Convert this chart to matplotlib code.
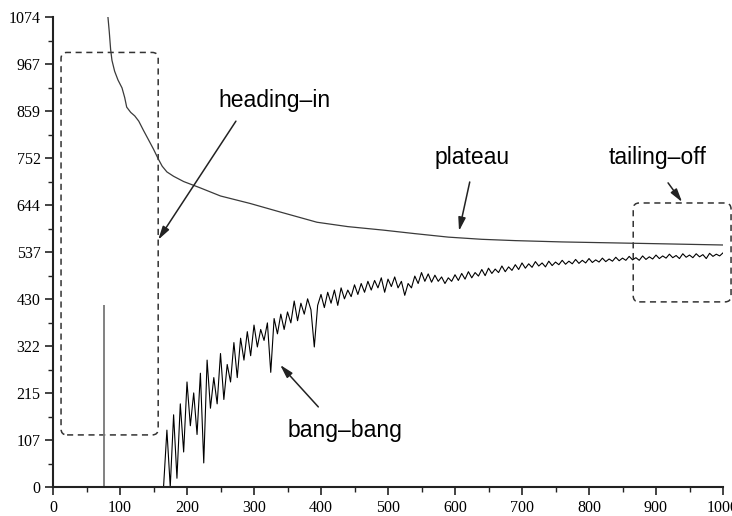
import numpy as np
import matplotlib
matplotlib.use("Agg")
import matplotlib.pyplot as plt
import matplotlib.patches as mpatches

# ---- data ----
y_ticks = [0, 107, 215, 322, 430, 537, 644, 752, 859, 967, 1074]
y_tick_labels = ["0", "107", "215", "322", "430", "537", "644", "752", "859", "967", "1074"]
x_ticks = [0, 100, 200, 300, 400, 500, 600, 700, 800, 900, 1000]

# upper curve (objective, "plateau")
upper_x = [82, 84, 86, 88, 92, 97, 103, 107, 110, 116, 122, 128, 135, 142, 150,
           157, 163, 170, 180, 195, 219, 250, 294, 340, 394, 440, 493, 540, 590, 640,
           690, 760, 830, 900, 1000]
upper_y = [1074, 1040, 1000, 975, 950, 930, 912, 890, 868, 856, 848, 836, 815, 795, 772,
           750, 733, 720, 710, 698, 684, 665, 648, 628, 605, 595, 587, 579, 571, 566,
           563, 560, 558, 556, 553]

# lower curve (bound, "bang-bang"), sampled every 5 iterations from 165
lower_start = 165
lower_step = 5
lower_y = [
    0, 130, 0, 165, 20, 190, 80, 240, 140, 215,
    120, 260, 55, 290, 180, 250, 190, 305, 200, 280,
    240, 330, 250, 340, 290, 355, 300, 370, 320, 360,
    335, 375, 262, 385, 350, 395, 360, 400, 375, 425,
    380, 420, 395, 430, 405, 320, 415, 440, 410, 445,
    420, 450, 415, 455, 430, 450, 435, 462, 440, 465,
    445, 470, 450, 472, 455, 478, 445, 475, 458, 480,
    455, 470, 438, 465, 455, 482, 465, 490, 470, 487,
    468, 484, 470, 480, 465, 478, 470, 485, 472, 488,
    475, 492, 478, 490, 482, 497, 483, 500, 488, 498,
    490, 505, 492, 503, 495, 508, 497, 512, 500, 510,
    502, 515, 505, 512, 503, 516, 506, 514, 508, 518,
    509, 516, 510, 520, 511, 518, 512, 522, 513, 519,
    514, 523, 515, 521, 516, 525, 517, 523, 518, 527,
    519, 524, 518, 528, 520, 526, 521, 530, 522, 528,
    523, 532, 524, 529, 522, 533, 525, 530, 524, 533,
    526, 531, 522, 534, 527, 532, 528, 535,
]
lower_x = [lower_start + lower_step * i for i in range(len(lower_y))]

# isolated spike
spike_x = 76
spike_top = 415

fig = plt.figure(figsize=(7.32, 5.16), dpi=100)
ax = fig.add_axes([53 / 732, 1 - 487 / 516, 670 / 732, 470 / 516])

ax.plot(upper_x, upper_y, color="#3a3a3a", lw=0.9)
ax.plot(lower_x, lower_y, color="black", lw=0.8)
ax.vlines(spike_x, 0, spike_top, color="#777777", lw=1.3)

ax.set_xlim(0, 1000)
ax.set_ylim(0, 1074)

for s in ["top", "right"]:
    ax.spines[s].set_visible(False)
for s in ["left", "bottom"]:
    ax.spines[s].set_linewidth(1.5)
    ax.spines[s].set_color("#222222")

ax.set_yticks(y_ticks)
ax.set_yticklabels(y_tick_labels)
ax.set_yticks([1074 * k / 20 for k in range(1, 20, 2)], minor=True)
ax.set_xticks(x_ticks)
ax.set_xticks(range(50, 1000, 100), minor=True)
ax.tick_params(which="major", direction="out", length=6, width=1.2, color="#222222",
               labelsize=11.5, labelfontfamily="Liberation Serif", pad=3)
ax.tick_params(which="minor", direction="out", length=3.5, width=1, color="#222222")

# dashed rounded boxes
box_kw = dict(fill=False, edgecolor="#333333", lw=1.1, linestyle=(0, (4, 3)),
              mutation_aspect=1.53)
ax.add_patch(mpatches.FancyBboxPatch((12, 119), 145, 874,
                                     boxstyle="round,pad=0,rounding_size=9", **box_kw))
ax.add_patch(mpatches.FancyBboxPatch((866, 423), 146, 226, clip_on=False,
                                     boxstyle="round,pad=0,rounding_size=9", **box_kw))

# annotations
txt_kw = dict(fontsize=16.5, family="Liberation Sans", ha="center", va="center")
arr = dict(arrowstyle="-|>,head_length=0.8,head_width=0.22", color="#222222", lw=1.1,
           shrinkA=0, shrinkB=0)
ax.text(331, 884, "heading\u2013in", **txt_kw)
ax.annotate("", xy=(157, 565), xytext=(273, 836), arrowprops=arr)
ax.text(625, 752, "plateau", **txt_kw)
ax.annotate("", xy=(606, 585), xytext=(622, 697), arrowprops=arr)
ax.text(903, 752, "tailing\u2013off", **txt_kw)
ax.annotate("", xy=(939, 651), xytext=(918, 695), arrowprops=arr)
ax.text(436, 130, "bang\u2013bang", **txt_kw)
ax.annotate("", xy=(339, 279), xytext=(396, 183), arrowprops=arr)

fig.savefig("out.png", dpi=100)
